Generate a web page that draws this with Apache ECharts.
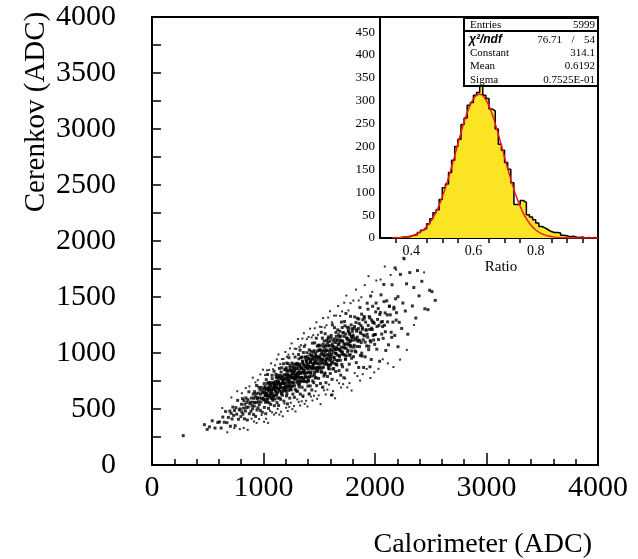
<!DOCTYPE html>
<html><head><meta charset="utf-8">
<script src="https://cdn.jsdelivr.net/npm/echarts@6/dist/echarts.min.js"></script>
<style>html,body{margin:0;padding:0;background:#fff}#c{width:638px;height:559px}</style>
</head><body><div id="c"></div>
<script>
// ---------- texts ----------
const xTitle = 'Calorimeter (ADC)';
const yTitle = 'Cerenkov (ADC)';
const insetXTitle = 'Ratio';
// ---------- scatter core (ADC units) ----------
const calorimeter = [
280,470,495,515,540,565,590,605,620,635,648,660,672,685,698,703,710,718,725,732,740,746,753,760,768,775,783,790,797,
802,806,811,815,820,824,829,833,838,842,846,851,855,860,864,869,873,878,882,887,892,897,
902,905,908,911,914,917,920,923,926,929,932,935,938,941,944,947,950,953,956,959,962,965,968,971,974,977,980,983,986,989,993,997,
1003,1006,1008,1011,1014,1017,1020,1022,1025,1028,1031,1034,1036,1039,1042,1045,1048,1050,1053,1056,1059,1062,1064,1067,1070,1073,1076,1078,1081,1084,1087,1090,1092,1095,1097,1099,
1102,1104,1107,1109,1111,1114,1116,1119,1121,1123,1126,1128,1131,1133,1135,1138,1140,1142,1145,1147,1150,1152,1154,1157,1159,1161,1164,1166,1169,1171,1173,1176,1178,1180,1183,1185,1188,1190,1192,1195,1197,1199,
1202,1204,1206,1208,1211,1213,1215,1217,1219,1222,1224,1226,1228,1230,1233,1235,1237,1239,1241,1244,1246,1248,1250,1252,1255,1257,1259,1261,1263,1266,1268,1270,1272,1274,1277,1279,1281,1283,1285,1288,1290,1292,1294,1296,1298,1201,1209,
1302,1304,1306,1308,1310,1312,1314,1316,1318,1320,1322,1324,1326,1328,1330,1332,1334,1336,1338,1340,1342,1344,1346,1348,1350,1352,1354,1356,1358,1360,1362,1364,1366,1368,1370,1372,1374,1376,1378,1380,1382,1384,1386,1388,1390,1392,1394,1396,1398,
1402,1404,1406,1408,1411,1413,1415,1417,1419,1422,1424,1426,1428,1430,1433,1435,1437,1439,1441,1444,1446,1448,1450,1452,1455,1457,1459,1461,1463,1466,1468,1470,1472,1474,1477,1479,1481,1483,1485,1488,1490,1492,1494,1496,1498,1401,1409,
1502,1504,1507,1509,1511,1514,1516,1518,1521,1523,1525,1528,1530,1532,1535,1537,1539,1542,1544,1546,1549,1551,1553,1556,1558,1560,1563,1565,1567,1570,1572,1574,1577,1579,1581,1584,1586,1588,1591,1593,1595,1598,1599,
1602,1605,1607,1610,1613,1615,1618,1621,1623,1626,1629,1631,1634,1637,1639,1642,1645,1647,1650,1653,1655,1658,1661,1663,1666,1669,1671,1674,1677,1679,1682,1685,1687,1690,1693,1695,1697,1699,
1703,1706,1709,1712,1715,1718,1721,1724,1727,1730,1733,1736,1739,1742,1745,1748,1751,1754,1757,1760,1763,1766,1769,1772,1775,1778,1781,1784,1787,1790,1793,1797,
1803,1807,1810,1814,1818,1821,1825,1829,1832,1836,1840,1843,1847,1851,1854,1858,1862,1865,1869,1873,1876,1880,1884,1887,1891,1895,1898,
1903,1907,1912,1916,1921,1925,1930,1934,1939,1943,1948,1952,1957,1961,1966,1970,1975,1979,1984,1988,1993,1997,
2004,2010,2016,2023,2029,2035,2041,2048,2054,2060,2066,2073,2079,2085,2091,2097,
2105,2113,2121,2129,2137,2145,2153,2161,2169,2177,2185,2193,
2206,2217,2228,2239,2250,2261,2272,2283,2294,
2312,2335,2348,2366,2381,2395,2420,2447,2475,2490,2511,2540,2180,2206,1955,1614
];
const cerenkov = [
262,360,318,340,395,330,380,385,330,428,382,478,378,425,482,346,462,411,517,443,487,351,512,454,577,408,491,501,432,
542,474,593,454,508,575,412,542,482,599,512,560,402,584,517,654,458,550,560,480,598,530,
502,561,634,451,595,526,655,558,610,434,635,559,710,491,592,601,511,641,565,694,539,598,671,488,632,563,693,595,647,471,673,597,
582,727,514,651,700,623,458,681,762,582,639,562,808,620,678,506,737,604,669,718,736,642,541,709,671,594,801,636,694,577,737,676,622,837,530,721,
700,589,746,654,809,622,692,780,557,730,646,802,684,745,532,775,681,863,598,720,799,697,586,769,728,643,868,689,751,623,796,729,670,904,570,778,728,850,696,672,699,855,
698,868,616,777,836,743,546,811,906,692,759,666,958,735,802,597,870,712,788,846,792,671,841,738,910,704,781,876,633,823,730,900,770,837,604,868,766,964,675,808,894,782,661,860,814,660,910,
908,788,658,872,822,722,987,776,847,697,901,821,751,1025,633,877,817,959,779,750,781,964,694,866,928,828,617,902,1004,772,844,745,1059,818,889,669,963,792,874,937,877,747,930,821,1003,782,864,967,705,
891,750,948,829,1028,789,877,988,706,926,818,1015,863,942,670,977,858,1088,751,906,1006,876,735,965,913,805,1090,862,940,778,997,911,837,1132,709,972,907,1061,866,836,869,1066,773,961,1027,858,634,
1024,955,864,1064,728,985,905,1185,827,944,865,1133,1019,695,940,1057,989,794,1108,901,972,811,1172,930,1059,735,1027,947,1111,903,1021,790,1094,979,887,1144,937,1066,858,1011,1105,968,817,
894,933,1157,986,1062,765,1251,918,1006,1107,861,1048,963,1226,904,1030,1094,835,998,1149,1051,892,1117,981,1207,936,1036,1162,842,1091,969,1194,1021,1110,802,1150,1015,1276,
990,1228,877,1100,1181,1052,779,1148,1281,981,1074,945,1353,1041,1134,848,1230,1008,1115,1196,1224,1069,900,1178,1114,984,1327,1054,1147,953,1217,1114,
1146,967,1219,1069,1322,1018,1132,1273,914,1194,1058,1310,1117,1218,871,1263,1112,1406,978,1175,1093,1347,973,1212,1297,1161,871,
1326,1153,966,1276,1206,1063,1445,1141,1246,1030,1325,1210,1111,1508,942,1294,1210,1417,1157,1116,1265,1077,
1165,1446,1034,1300,1397,1247,926,1362,1519,1169,1281,1131,1612,1247,1358,1023,
1466,1278,1073,1417,1341,1185,1609,1276,1393,1157,1484,1360,
1503,1274,1702,1219,1446,1841,1375,1618,1168,
1718,1420,1585,1312,1736,1510,1640,1395,1387,1560,1548,1470,1760,1056,877,626
];
// ---------- scatter dense ridge (extra events in the darkest band) ----------
const ridgeCal = [
1002,1006,1010,1014,1018,1022,1026,1030,1034,1038,1042,1046,1050,1054,1058,1062,1066,1070,1074,1078,1082,1086,1090,1094,1098,
1102,1106,1110,1114,1118,1122,1126,1130,1134,1138,1142,1146,1150,1154,1158,1162,1166,1170,1174,1178,1182,1186,1190,1194,1198,
1202,1206,1210,1214,1218,1222,1226,1230,1234,1238,1242,1246,1250,1254,1258,1262,1266,1270,1274,1278,1282,1286,1290,1294,1298,
1302,1306,1310,1314,1318,1322,1326,1330,1334,1338,1342,1346,1350,1354,1358,1362,1366,1370,1374,1378,1382,1386,1390,1394,1398,
1402,1406,1410,1414,1418,1422,1426,1430,1434,1438,1442,1446,1450,1454,1458,1462,1466,1470,1474,1478,1482,1486,1490,1494,1498,
1502,1506,1510,1514,1518,1522,1526,1530,1534,1538,1542,1546,1550,1554,1558,1562,1566,1570,1574,1578,1582,1586,1590,1594,1598,
1602,1606,1610,1614,1618,1622,1626,1630,1634,1638,1642,1646,1650,1654,1658,1662,1666,1670,1674,1678,1682,1686,1690,1694,1698,
1702,1706,1710,1714,1718,1722,1726,1730,1734,1738,1742,1746,1750,1754,1758,1762,1766,1770,1774,1778,1782,1786,1790,1794,1798,
1803,1809,1816,1822,1829,1835,1842,1848,1855,1861,1868,1874,1881,1887,1894,
1904,1912,1920,1929,1937,1945,1953,1962,1970,1978,1986,1995,
2006,2018,2031,2043,2056,2068,2081,2093,
2110,2130,2150,2170,2190
];
const ridgeCer = [
645,584,689,621,560,674,636,615,728,589,662,696,556,685,624,729,614,671,650,771,592,728,613,678,709,
726,686,662,786,633,713,750,598,737,672,785,659,722,698,830,634,783,656,728,760,759,692,807,731,666,
764,804,637,791,717,843,704,772,746,890,676,839,700,777,813,810,738,862,781,707,842,797,772,905,739,
898,749,822,795,948,719,893,744,827,865,862,784,918,829,751,895,847,819,963,783,877,920,741,904,827,
760,948,787,877,917,915,829,974,878,794,949,897,866,1021,828,928,974,780,958,872,1017,856,935,904,1071,
966,876,1029,927,837,1002,946,914,1079,873,979,1029,822,1009,920,1072,901,985,953,1129,865,1064,893,988,1032,
956,1132,911,1026,1077,857,1058,961,1125,942,1030,996,1184,901,1115,931,1033,1078,1075,978,1142,1033,936,1112,1053,
898,1110,1008,1181,986,1081,1044,1243,944,1170,975,1083,1131,1126,1024,1197,1082,979,1166,1102,1066,1251,1018,1138,1194,
1160,1052,1237,1116,1009,1208,1142,1104,1303,1057,1186,1245,999,1226,1118,
1311,1097,1205,1167,1391,1060,1313,1099,1221,1277,1275,1164,
1367,1236,1120,1344,1275,1236,1459,1190,
1340,1418,1140,1409,1294
];
// ---------- scatter halo: sparse outer events ----------
const haloCal = [
630,675,712,738,765,788,806,823,841,858,874,893,
904,915,927,938,949,960,972,983,995,
1005,1014,1023,1032,1041,1050,1059,1068,1077,1086,1095,
1104,1111,1119,1127,1134,1142,1150,1157,1165,1173,1180,1188,1196,
1203,1210,1217,1224,1231,1238,1245,1252,1259,1266,1273,1280,1287,1294,
1303,1309,1316,1322,1329,1336,1342,1349,1355,1362,1369,1375,1382,1389,1395,
1404,1411,1418,1425,1432,1439,1446,1453,1460,1467,1474,1481,1488,1495,
1505,1512,1520,1527,1535,1543,1550,1558,1565,1573,1580,1588,1596,
1606,1615,1624,1633,1642,1651,1660,1669,1678,1687,1696,
1705,1714,1724,1733,1743,1752,1762,1771,1781,1790,
1806,1818,1830,1842,1854,1866,1878,1890,
1908,1925,1942,1959,1976,1993,
2012,2031,2050,2069,2088,
2115,2140,2165,2190,
2225,2255,2285,2350,2440
];
const haloCer = [
509,292,603,329,659,321,641,331,687,314,702,413,
780,389,738,376,758,410,809,446,851,
386,803,413,845,376,849,483,907,470,855,450,
890,465,943,501,987,450,902,476,946,435,947,548,1009,
511,966,482,985,519,1041,556,1086,499,992,526,1038,478,1037,
586,1125,563,1052,531,1070,569,1129,608,1177,546,1075,574,1124,522,
1143,635,1217,611,1139,576,1159,618,1221,659,1274,591,1163,622,
1235,543,1232,692,1312,667,1228,630,1248,673,1316,718,1373,
624,1274,660,1334,596,1334,756,1419,730,1331,692,
1371,722,1449,773,1513,693,1380,731,1445,665,
1468,821,1566,794,1469,754,1498,811,
1606,858,1686,777,1546,827,
1647,859,1656,944,1772,
908,1697,875,1744,
941,1850,1028,1250,1720
];
// ---------- inset histogram of Cerenkov/Calorimeter ratio ----------
const ratioBinStart = 0.30;
const ratioBinWidth = 0.01;
const ratioCounts = [
0,0,0,0,1,0,1,2,2,4,
6,7,12,17,21,31,42,55,62,84,
110,118,143,170,200,216,248,262,290,296,
312,318,337,312,305,282,278,238,205,192,
165,150,121,73,74,82,78,51,46,40,
33,25,22,18,14,12,12,11,6,5,
3,4,2,1,2,0,1,0,1,0
];
// fitted gaussian curve, read at these ratios
const fitRatio  = [0.34,0.36,0.38,0.40,0.42,0.44,0.45,0.46,0.47,0.48,0.49,0.50,0.51,0.52,0.53,0.54,0.55,0.56,0.57,0.58,0.59,0.60,0.61,0.62,0.63,0.64,0.65,0.66,0.67,0.68,0.69,0.70,0.71,0.72,0.73,0.74,0.75,0.76,0.77,0.78,0.79,0.80,0.82,0.84,0.86,0.88,0.90,0.92,0.94,0.97,1.00];
const fitCounts = [0.3,0.8,2.0,4.5,9.5,18.4,25.1,33.4,44.0,56.7,71.9,89.5,109.6,131.5,155.6,180,205.7,230,253.5,274,291.1,304,311.7,314,310.8,302,288.8,271,250,227,201.6,176,151.6,128,106.3,86.6,69.3,54.5,42.2,32.1,23.9,17.5,8.9,4.3,1.9,0.8,0.3,0.1,0,0,0];
// ---------- stats box ----------
const statsLabels = ['Entries','Constant','Mean','Sigma'];
const statsValues = ['5999','314.1','0.6192','0.7525E-01'];
const chi2Label = 'χ²/ndf';
const chi2Values = ['76.71','54'];
// ---------- axis ticks ----------
const mainTickStepX = 1000, mainTickStepY = 500;
const insetXLabels = [0.4,0.6,0.8];
const insetXMinor = [0.35,0.45,0.5,0.55,0.65,0.7,0.75,0.85,0.9,0.95];
const insetYLabels = [0,50,100,150,200,250,300,350,400,450];
const insetYMinor = [25,75,125,175,225,275,325,375,425,475];

function zip(a, b) {
  const out = [];
  const n = Math.min(a.length, b.length);
  for (let i = 0; i < n; i++) out.push([a[i], b[i]]);
  return out;
}
const scatterData = zip(calorimeter, cerenkov).concat(zip(ridgeCal, ridgeCer));
const haloData = zip(haloCal, haloCer);
const histData = ratioCounts.map((c, i) => [+(ratioBinStart + i * ratioBinWidth).toFixed(3), c]);
histData.push([+(ratioBinStart + ratioCounts.length * ratioBinWidth).toFixed(3), ratioCounts[ratioCounts.length - 1]]);
const fitData = zip(fitRatio, fitCounts);

const serif = 'Liberation Serif';
const black = '#000';
const chart = echarts.init(document.getElementById('c'), null, {renderer: 'canvas'});

const statsGraphics = [
  {type:'rect', shape:{x:464, y:18, width:134, height:68}, style:{fill:'#fff', stroke:black, lineWidth:2}, z:100},
  {type:'line', shape:{x1:464, y1:31, x2:598, y2:31}, style:{stroke:black, lineWidth:2}, z:101},
  {type:'text', x:470, y:25, style:{text:statsLabels[0], font:'11px "Liberation Serif"', fill:black, textVerticalAlign:'middle'}, z:101},
  {type:'text', x:595, y:25, style:{text:statsValues[0], font:'11px "Liberation Serif"', fill:black, textAlign:'right', textVerticalAlign:'middle'}, z:101},
  {type:'text', x:469, y:40, style:{text:chi2Label, font:'italic bold 12px "Liberation Sans"', fill:black, textVerticalAlign:'middle'}, z:101},
  {type:'text', x:562, y:40, style:{text:chi2Values[0], font:'11px "Liberation Serif"', fill:black, textAlign:'right', textVerticalAlign:'middle'}, z:101},
  {type:'text', x:573, y:40, style:{text:'/', font:'11px "Liberation Serif"', fill:black, textAlign:'center', textVerticalAlign:'middle'}, z:101},
  {type:'text', x:595, y:40, style:{text:chi2Values[1], font:'11px "Liberation Serif"', fill:black, textAlign:'right', textVerticalAlign:'middle'}, z:101}
];
const rowY = [53, 66.5, 80];
for (let k = 1; k < statsLabels.length; k++) {
  statsGraphics.push({type:'text', x:470, y:rowY[k-1], style:{text:statsLabels[k], font:'11px "Liberation Serif"', fill:black, textVerticalAlign:'middle'}, z:101});
  statsGraphics.push({type:'text', x:595, y:rowY[k-1], style:{text:statsValues[k], font:'11px "Liberation Serif"', fill:black, textAlign:'right', textVerticalAlign:'middle'}, z:101});
}

const plain = (v) => String(v);
const option = {
  animation: false,
  backgroundColor: '#fff',
  textStyle: {fontFamily: serif, color: black},
  grid: [
    {left:152, top:17, width:446, height:448, show:true, borderColor:black, borderWidth:2, backgroundColor:'transparent'},
    {left:380, top:17, width:218, height:221, show:true, borderColor:black, borderWidth:2, backgroundColor:'#fff', z:3}
  ],
  xAxis: [
    {gridIndex:0, type:'value', min:0, max:4000, interval:mainTickStepX,
     axisLine:{show:true, onZero:false, lineStyle:{color:black, width:2}},
     axisTick:{show:true, inside:true, length:12, lineStyle:{color:black, width:1.5}},
     minorTick:{show:true, splitNumber:5, length:6, lineStyle:{color:black, width:1.5}},
     axisLabel:{color:black, fontFamily:serif, fontSize:30, margin:8, formatter:plain},
     splitLine:{show:false}, minorSplitLine:{show:false}},
    {gridIndex:1, type:'value', min:0.3, max:1.0,
     axisLine:{show:true, onZero:false, lineStyle:{color:black, width:2}},
     axisTick:{show:true, inside:true, length:9, customValues:insetXLabels, lineStyle:{color:black, width:1.5}},
     axisLabel:{show:true, customValues:insetXLabels, formatter:(v)=>v.toFixed(1), color:black, fontFamily:serif, fontSize:14, margin:6},
     splitLine:{show:false},
     name: insetXTitle, nameLocation:'middle', nameGap:22,
     nameTextStyle:{fontFamily:serif, fontSize:15, color:black, padding:[0,0,0,24]}},
    {gridIndex:1, type:'value', min:0.3, max:1.0,
     axisLine:{show:false},
     axisTick:{show:true, inside:true, length:5, customValues:insetXMinor, lineStyle:{color:black, width:1.5}},
     axisLabel:{show:false}, splitLine:{show:false}}
  ],
  yAxis: [
    {gridIndex:0, type:'value', min:0, max:4000, interval:mainTickStepY,
     axisLine:{show:true, onZero:false, lineStyle:{color:black, width:2}},
     axisTick:{show:true, inside:true, length:9, lineStyle:{color:black, width:1.5}},
     minorTick:{show:true, splitNumber:2, length:9, lineStyle:{color:black, width:1.5}},
     axisLabel:{color:black, fontFamily:serif, fontSize:30, margin:36, formatter:plain},
     splitLine:{show:false}, minorSplitLine:{show:false}},
    {gridIndex:1, type:'value', min:0, max:483,
     axisLine:{show:true, onZero:false, lineStyle:{color:black, width:2}},
     axisTick:{show:true, inside:true, length:10, customValues:insetYLabels, lineStyle:{color:black, width:1.5}},
     axisLabel:{show:true, customValues:insetYLabels, color:black, fontFamily:serif, fontSize:13, margin:5},
     splitLine:{show:false}},
    {gridIndex:1, type:'value', min:0, max:483,
     axisLine:{show:false},
     axisTick:{show:true, inside:true, length:5, customValues:insetYMinor, lineStyle:{color:black, width:1.5}},
     axisLabel:{show:false}, splitLine:{show:false}}
  ],
  graphic: [
    {type:'text', x:592, y:545, style:{text:xTitle, font:'28px "Liberation Serif"', fill:black, textAlign:'right', textVerticalAlign:'middle'}},
    {type:'text', x:36, y:112, rotation:Math.PI/2, style:{text:yTitle, font:'29px "Liberation Serif"', fill:black, textAlign:'center', textVerticalAlign:'middle'}}
  ].concat(statsGraphics),
  series: [
    {type:'scatter', xAxisIndex:0, yAxisIndex:0, data:scatterData, symbol:'rect', symbolSize:3,
     itemStyle:{color:black}, silent:true},
    {type:'scatter', xAxisIndex:0, yAxisIndex:0, data:haloData, symbol:'rect', symbolSize:2,
     itemStyle:{color:black}, silent:true},
    {type:'line', xAxisIndex:1, yAxisIndex:1, data:histData, step:'end', showSymbol:false, symbol:'none',
     lineStyle:{color:black, width:1.5}, areaStyle:{color:'#fbe424', opacity:1}, z:4, silent:true},
    {type:'line', xAxisIndex:1, yAxisIndex:1, data:fitData, smooth:0.3, showSymbol:false, symbol:'none',
     lineStyle:{color:'#ee1c24', width:1.5}, z:5, silent:true}
  ]
};
chart.setOption(option);
</script>
</body></html>
